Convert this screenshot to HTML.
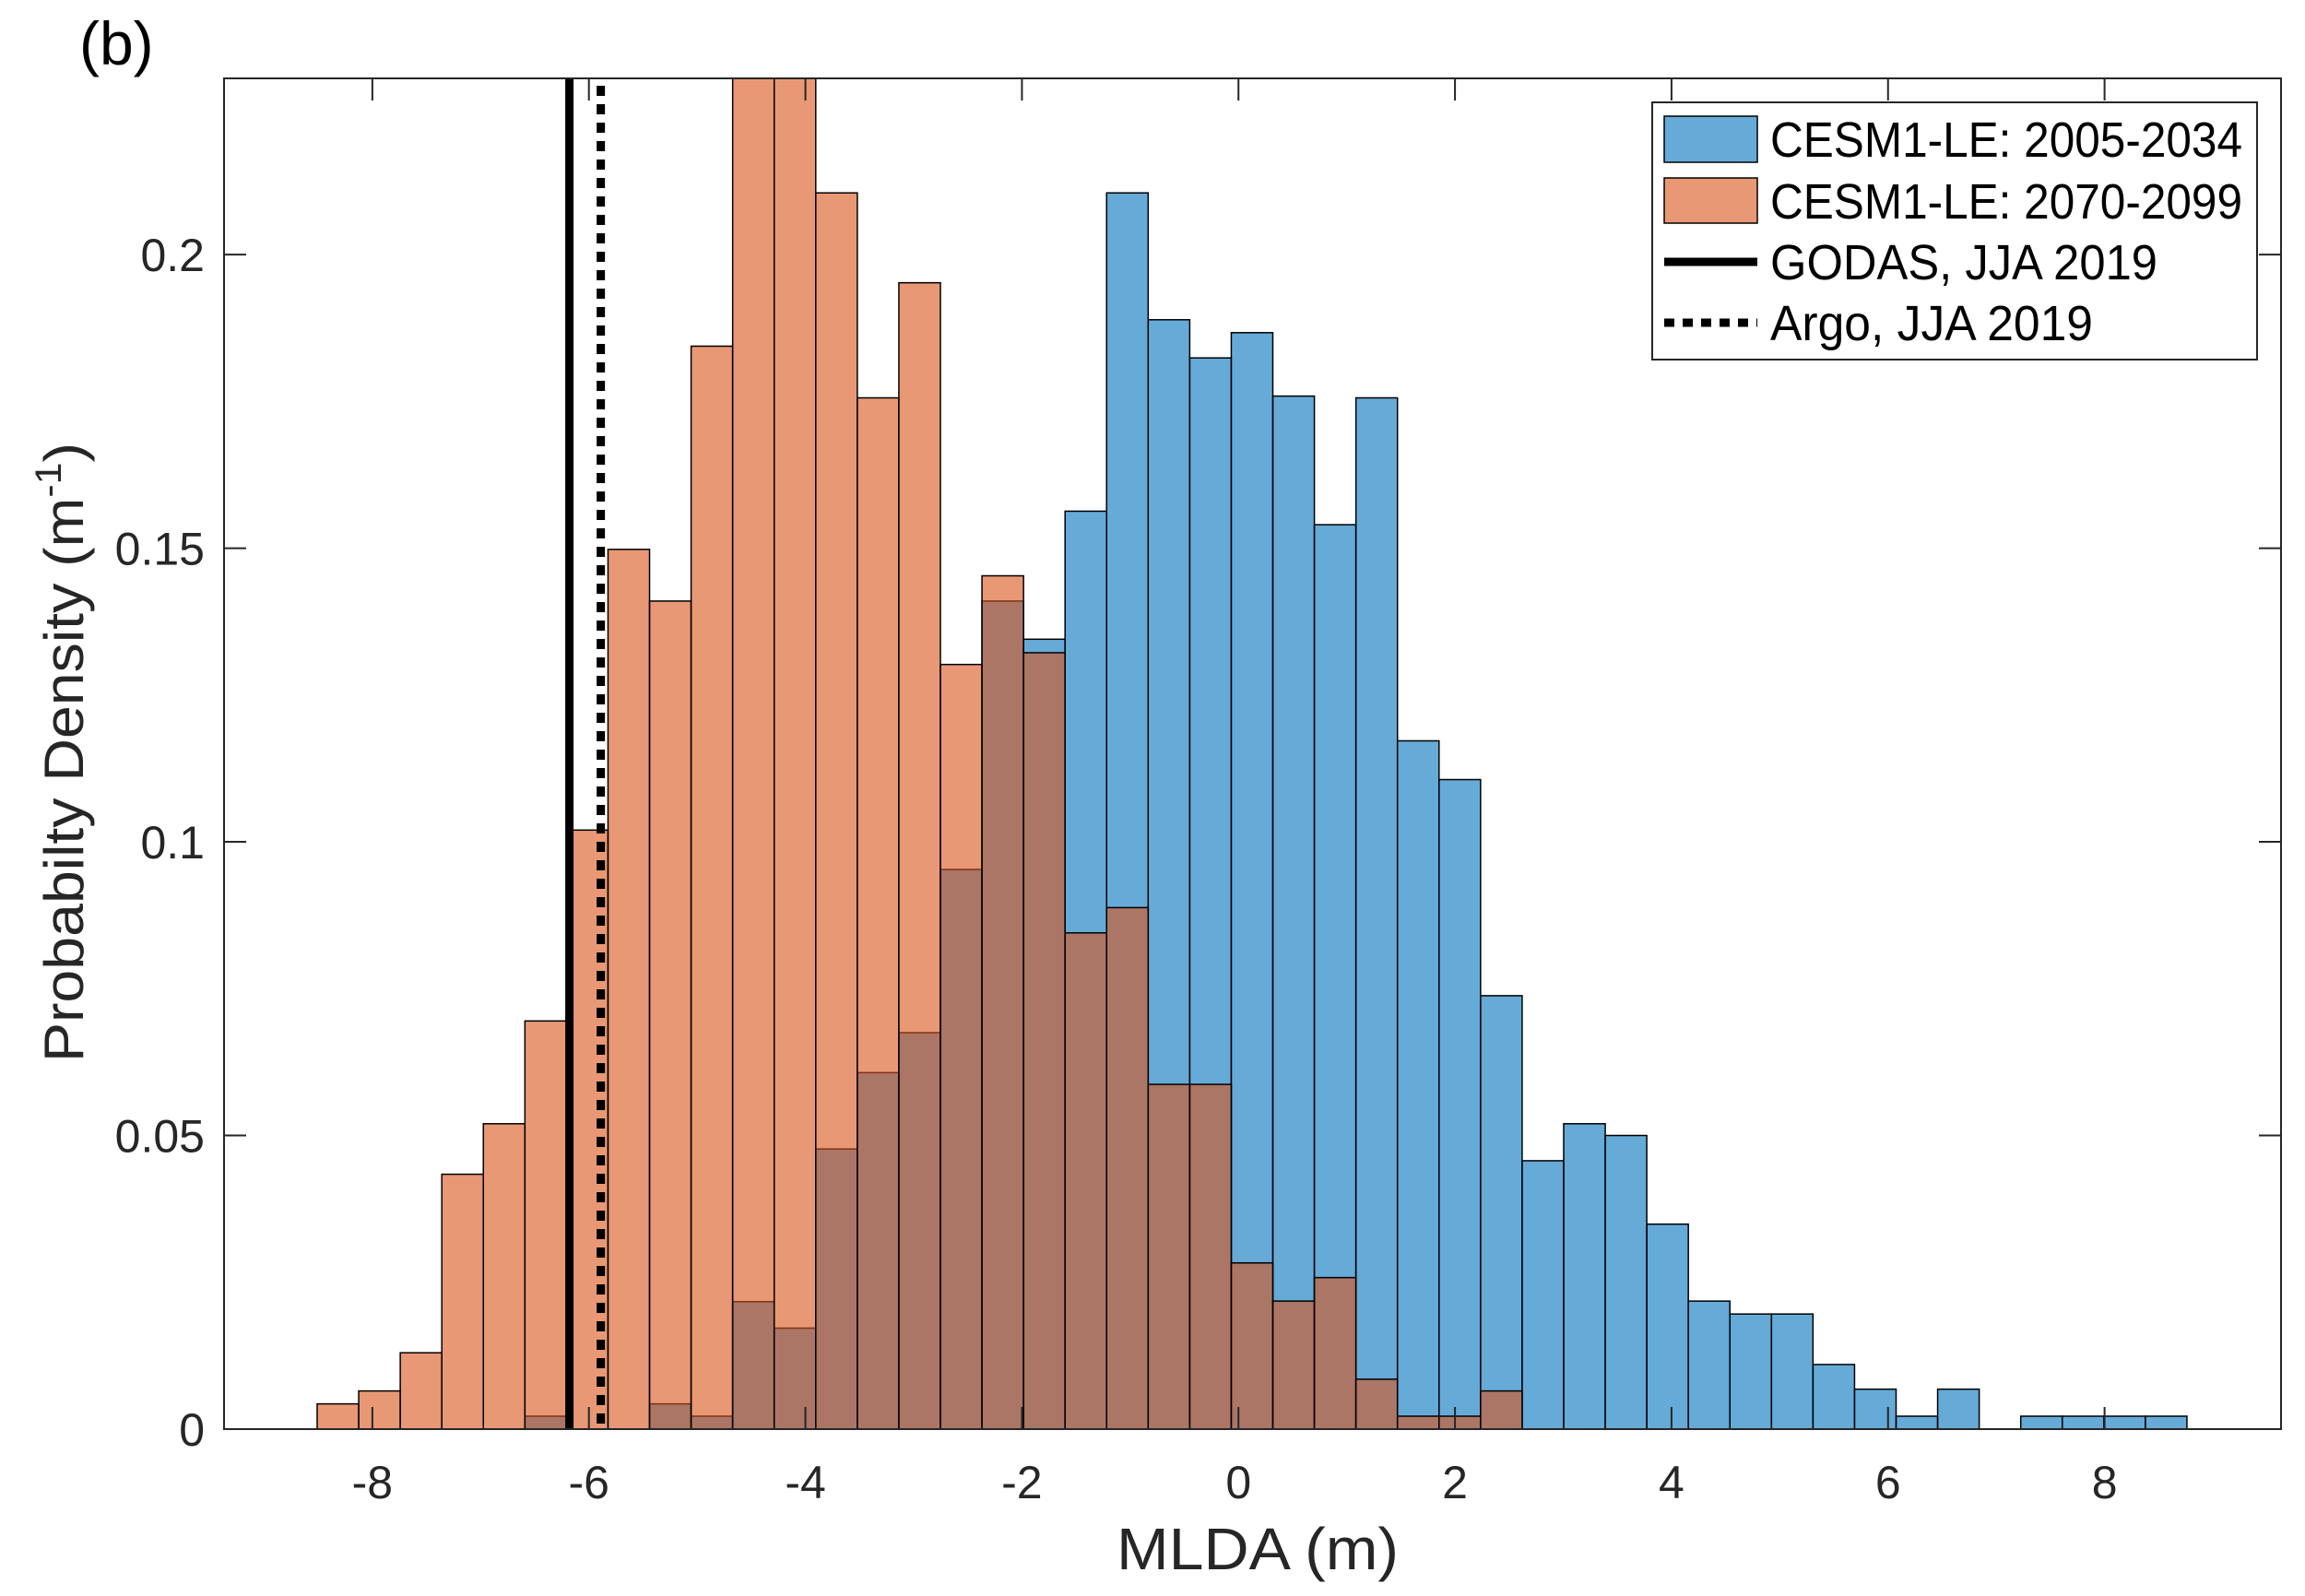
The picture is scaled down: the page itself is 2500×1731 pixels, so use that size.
<!DOCTYPE html>
<html><head><meta charset="utf-8"><style>
html,body{margin:0;padding:0;background:#fff;}
svg{display:block;font-family:"Liberation Sans",sans-serif;}
</style></head><body>
<svg id="chart" width="2500" height="1731" viewBox="0 0 2500 1731" xmlns="http://www.w3.org/2000/svg">
<text x="86" y="70" font-size="66" fill="#000">(b)</text>
<rect x="243" y="85" width="2231" height="1465" fill="#fff"/>
<g id="bars-blue"></g>
<g id="bars-orange"></g>
<g id="refs"></g>
<rect x="243" y="85" width="2231" height="1465" fill="none" stroke="#262626" stroke-width="2"/>
<g id="ticks"></g>
<text x="1364" y="1702" font-size="64" fill="#262626" text-anchor="middle" textLength="306" lengthAdjust="spacingAndGlyphs">MLDA (m)</text>
<text transform="translate(90,816) rotate(-90)" font-size="60" fill="#262626" text-anchor="middle" textLength="672" lengthAdjust="spacingAndGlyphs">Probabilty Density (m<tspan font-size="40" dy="-24">-1</tspan><tspan dy="24">)</tspan></text>
<g>
<rect x="1792" y="111" width="656" height="279" fill="#fff" stroke="#262626" stroke-width="2"/>
<rect x="1805" y="126" width="101" height="50" fill="rgb(102,170,215)" stroke="#000" stroke-width="1.5"/>
<text x="1920" y="170" font-size="54" textLength="512" lengthAdjust="spacingAndGlyphs">CESM1-LE: 2005-2034</text>
<rect x="1805" y="193" width="101" height="49" fill="rgb(232,152,117)" stroke="#000" stroke-width="1.5"/>
<text x="1920" y="237" font-size="54" textLength="512" lengthAdjust="spacingAndGlyphs">CESM1-LE: 2070-2099</text>
<line x1="1805" y1="284" x2="1906" y2="284" stroke="#000" stroke-width="9"/>
<text x="1920" y="303" font-size="54" textLength="420" lengthAdjust="spacingAndGlyphs">GODAS, JJA 2019</text>
<line x1="1805" y1="350" x2="1906" y2="350" stroke="#000" stroke-width="9" stroke-dasharray="11,9"/>
<text x="1920" y="369" font-size="54" textLength="350" lengthAdjust="spacingAndGlyphs">Argo, JJA 2019</text>
</g>
</svg>
<script>
const binStart = -8.51;
const binWidth = 0.3838;
const blueValues = [0,0,0,0,0,0.0022,0,0,0.0043,0.0022,0.0217,0.0172,0.0477,0.0607,0.0675,0.0953,0.141,0.1345,0.1563,0.2105,0.1889,0.1824,0.1867,0.1759,0.154,0.1756,0.1172,0.1106,0.0738,0.0457,0.052,0.05,0.0349,0.0218,0.0196,0.0196,0.011,0.0068,0.0022,0.0068,0,0.0022,0.0022,0.0022,0.0022];
const orangeValues = [0.0043,0.0065,0.013,0.0434,0.052,0.0695,0.102,0.1498,0.141,0.1844,0.24,0.24,0.2105,0.1756,0.1952,0.1302,0.1453,0.1322,0.0845,0.0888,0.0587,0.0587,0.0283,0.0218,0.0258,0.0085,0.0022,0.0022,0.0065,0,0,0,0,0,0,0,0,0,0,0,0,0,0,0,0];
const xTicks = [-8,-6,-4,-2,0,2,4,6,8];
const xTickLabels = ["-8","-6","-4","-2","0","2","4","6","8"];
const yTicks = [0,0.05,0.1,0.15,0.2];
const yTickLabels = ["0","0.05","0.1","0.15","0.2"];
const godasValue = -6.18;
const argoValue = -5.89;

const L=243,R=2474,T=85,B=1550,XMIN=-9.37,XMAX=9.63,YMIN=0,YMAX=0.23;
const NS='http://www.w3.org/2000/svg';
function sx(v){return L+(v-XMIN)/(XMAX-XMIN)*(R-L);}
function sy(v){return B-(Math.min(v,YMAX)-YMIN)/(YMAX-YMIN)*(B-T);}
function mk(tag,attrs,parent){const e=document.createElementNS(NS,tag);for(const k in attrs)e.setAttribute(k,attrs[k]);parent.appendChild(e);return e;}

function drawBars(vals,gid,fill,name){
  const g=document.getElementById(gid);
  vals.forEach((v,i)=>{
    if(v<=0)return;
    const x0=sx(binStart+i*binWidth),x1=sx(binStart+(i+1)*binWidth);
    const y=sy(v);
    const r=mk('rect',{x:x0,y:y,width:x1-x0,height:B-y,fill:fill,'fill-opacity':0.6,stroke:'#000','stroke-width':1.5},g);
    
    
  });
}
drawBars(blueValues,'bars-blue','rgb(0,114,189)','blue');
drawBars(orangeValues,'bars-orange','rgb(217,83,25)','orange');

const refs=document.getElementById('refs');
const gl=mk('line',{x1:sx(godasValue),x2:sx(godasValue),y1:T,y2:B,stroke:'#000','stroke-width':9},refs);


const al=mk('line',{x1:sx(argoValue),x2:sx(argoValue),y1:T+8,y2:B,stroke:'#000','stroke-width':9,'stroke-dasharray':'11,9'},refs);



const tg=document.getElementById('ticks');
xTicks.forEach((v,i)=>{
  const x=sx(v);
  mk('line',{x1:x,x2:x,y1:B,y2:B-24,stroke:'#262626','stroke-width':2},tg);
  mk('line',{x1:x,x2:x,y1:T,y2:T+24,stroke:'#262626','stroke-width':2},tg);
  const t=mk('text',{x:x,y:1625,'font-size':50,'text-anchor':'middle',fill:'#262626'},tg);
  t.textContent=xTickLabels[i];
  
  
});
yTicks.forEach((v,i)=>{
  const y=sy(v);
  mk('line',{x1:L,x2:L+24,y1:y,y2:y,stroke:'#262626','stroke-width':2},tg);
  mk('line',{x1:R,x2:R-24,y1:y,y2:y,stroke:'#262626','stroke-width':2},tg);
  const t=mk('text',{x:222,y:y+18,'font-size':50,'text-anchor':'end',fill:'#262626'},tg);
  t.textContent=yTickLabels[i];
  
  
});
</script>
</body></html>
